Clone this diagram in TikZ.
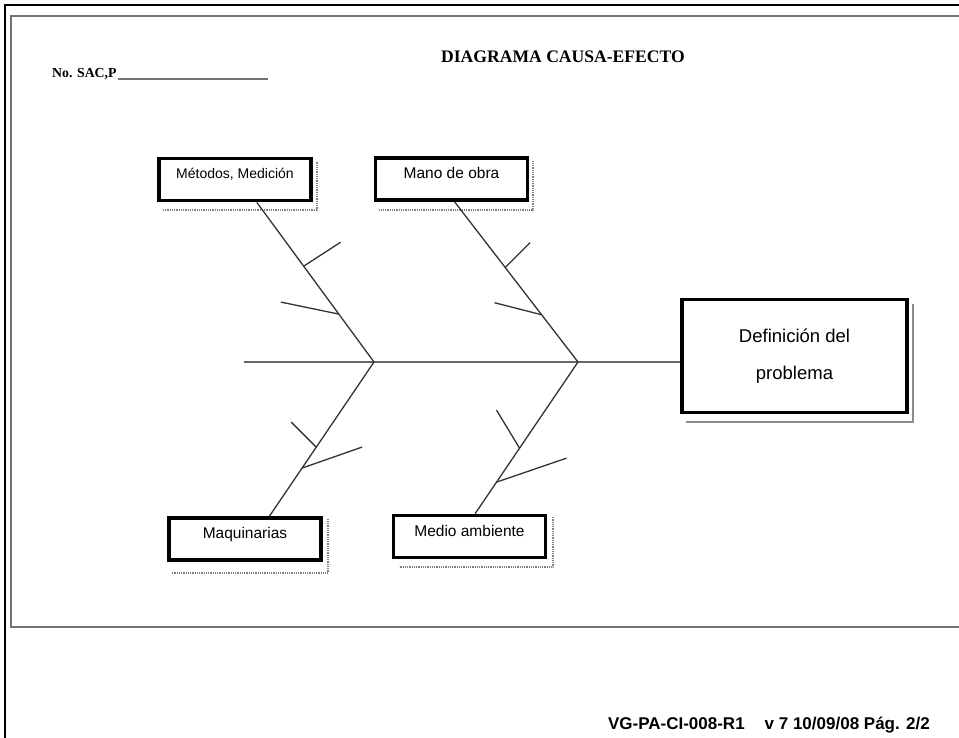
\documentclass[tikz,border=0pt]{standalone}
\usepackage{fontspec}
\setmainfont{Liberation Serif}
\setsansfont{Liberation Sans}
\usetikzlibrary{positioning,calc}

\begin{document}
\begin{tikzpicture}[
        x=1pt, y=-1pt, every node/.style={font=\sffamily, inner sep=0pt},
        cause/.style={rectangle, draw=black, line width=3.6pt, fill=white, minimum width=152pt, minimum height=42pt, text height=9pt, text depth=10pt, font=\sffamily\fontsize{15.5}{17}\selectfont},
        effect/.style={rectangle, draw=black, line width=3.6pt, fill=white, minimum width=225pt, minimum height=113pt, align=center, font=\sffamily\fontsize{18.5}{37}\selectfont},
        boxshadow/.style={draw=black!50, line width=1.8pt, dash pattern=on 0.9pt off 0.9pt},
        bone/.style={draw=black!80, line width=1.3pt},
        spine/.style={draw=black!60, line width=2pt},
        frame/.style={draw=black!55, line width=2.5pt}
        ]

        \useasboundingbox (0,0) rectangle (959,738);

        % page frames
        \draw[line width=2pt] (959,5) -- (5,5) -- (5,738);
        \draw[frame] (959,16) -- (11,16) -- (11,627) -- (959,627);

        % header
        \node[anchor=base west] (sac) at (52,78) {\rmfamily\bfseries\fontsize{13.8}{15}\selectfont No. SAC,P};
        \draw[line width=1.5pt, black!55] ([xshift=1pt, yshift=-1pt]sac.base east) -- ++(150,0);
        \node[anchor=base] (title) at (563,63) {\rmfamily\bfseries\fontsize{17.6}{20}\selectfont DIAGRAMA CAUSA-EFECTO};

        % fish bone
        \coordinate (tail) at (244,362);
        \coordinate (j1) at (374,362);
        \coordinate (j2) at (578,362);

        \node[cause, font=\sffamily\fontsize{14}{16}\selectfont] (met) at (235,179.5) {Métodos, Medición};
        \node[cause] (mano) at (451.5,179) {Mano de obra};
        \node[cause] (maq) at (245,539) {Maquinarias};
        \node[cause] (medio) at (469.5,536.5) {Medio ambiente};
        \node[effect] (prob) at (794.5,356) {Definición del\\problema};

        \draw[boxshadow] ([shift={(4,5)}]met.north east) |- ([shift={(5,8)}]met.south west);
        \draw[boxshadow] ([shift={(4,5)}]mano.north east) |- ([shift={(5,8)}]mano.south west);
        \draw[boxshadow] ([shift={(5,3)}]maq.north east) |- ([shift={(5,11)}]maq.south west);
        \draw[boxshadow] ([shift={(6,3)}]medio.north east) |- ([shift={(7,8)}]medio.south west);
        \draw[draw=black!45, line width=2pt] ([shift={(4,6)}]prob.north east) |- ([shift={(6,8)}]prob.south west);

        \draw[spine] (tail) -- (tail -| prob.west);

        \draw[bone] (j1) -- ($(met.south west)!0.64!(met.south east)$) coordinate (mettop);
        \draw[bone] (j2) -- ($(mano.south west)!0.52!(mano.south east)$) coordinate (manotop);
        \draw[bone] (j1) -- ($(maq.north west)!0.657!(maq.north east)$) coordinate (maqbot);
        \draw[bone] (j2) -- ($(medio.north west)!0.536!(medio.north east)$) coordinate (mediobot);

        % small causes
        \draw[bone] ($(mettop)!0.40!(j1)$) -- ++(37,-24);
        \draw[bone] ($(mettop)!0.70!(j1)$) -- ++(-58,-12);
        \draw[bone] ($(manotop)!0.41!(j2)$) -- ++(25,-25);
        \draw[bone] ($(manotop)!0.705!(j2)$) -- ++(-47,-12);
        \draw[bone] ($(j1)!0.552!(maqbot)$) -- ++(-25,-25);
        \draw[bone] ($(j1)!0.688!(maqbot)$) -- ++(60,-21);
        \draw[bone] ($(j2)!0.568!(mediobot)$) -- ++(-23,-38);
        \draw[bone] ($(j2)!0.792!(mediobot)$) -- ++(70,-24);

        % footer
        \node[anchor=base east] (foot) at (930,729) {\bfseries\fontsize{17}{19}\selectfont VG-PA-CI-008-R1\hspace{20pt}v 7 10/09/08 Pág. 2/2};

    \end{tikzpicture}
\end{document}
